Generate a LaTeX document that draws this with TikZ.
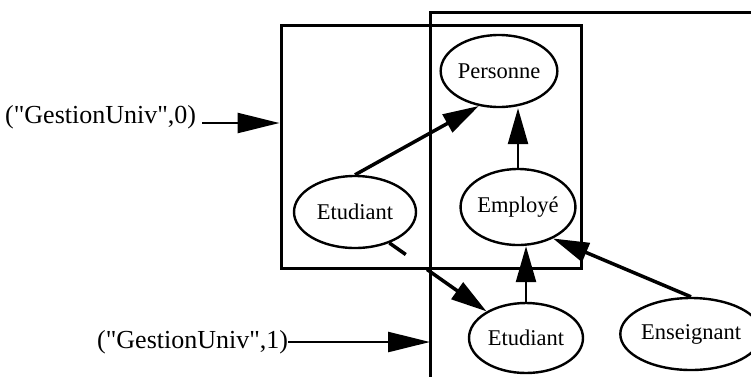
\documentclass[tikz,border=0pt]{standalone}
\usepackage{fontspec}
\setmainfont{Liberation Serif}[Ligatures=TeXOff]
\usetikzlibrary{arrows.meta,shapes.geometric,calc}
\begin{document}
\begin{tikzpicture}[x=1pt,y=-1pt,
  cls/.style={draw, ellipse, line width=2.4pt, inner sep=0pt, font=\fontsize{22.5}{26}\selectfont},
  lbl/.style={inner sep=0pt, font=\fontsize{26}{30}\selectfont},
  boxline/.style={line width=3pt},
  isa/.style={line width=3.5pt, -{Triangle[length=36pt,width=20pt]}},
  isav/.style={line width=2.5pt, -{Triangle[length=36pt,width=20pt]}},
  ptr/.style={line width=2.5pt, -{Triangle[length=42pt,width=20pt]}}]
\useasboundingbox (0,0) rectangle (751,376);
% boxes
\node[draw, boxline, minimum width=300pt, minimum height=243pt, inner sep=0pt] (box0) at (431,146.5) {};
\coordinate (b1) at (430,12);
\draw[boxline] (430,380) -- (b1) -- (755,12);
% classes
\node[cls, minimum width=114pt, minimum height=72pt] (pers) at (499,71) {Personne};
\node[cls, minimum width=122pt, minimum height=72pt] (etu0) at (355,212) {Etudiant};
\node[cls, minimum width=106pt, minimum height=76pt] (emp) at (518,207) {Employé};
\node[cls, minimum width=114pt, minimum height=70pt] (etu1) at (526,338) {Etudiant};
\node[cls, minimum width=116pt, minimum height=72pt] (ens) at (691,334) {Enseignant};
% labels
\node[lbl, anchor=base west] (g0) at (5,123) {("GestionUniv",0)};
\node[lbl, anchor=west] (g1) at (97,342) {("GestionUniv",1)};
% connectors
\draw[isa] (etu0.north) -- (pers.240);
\draw[isav] (emp.north) -- (emp.north |- pers.south);
\draw[isav] (etu1.north) -- (etu1.north |- emp.south);
\draw[isa] (ens.north) -- (emp.-42);
\draw[line width=3.5pt, dash pattern=on 20pt off 26pt on 300pt, -{Triangle[length=36pt,width=20pt]}] (etu0.-42) -- (etu1.146);
\draw[ptr, shorten <=6pt] (g0.base east) -- (g0.base east -| box0.west);
\draw[ptr] (g1.east) -- (g1.east -| b1);
\end{tikzpicture}
\end{document}
